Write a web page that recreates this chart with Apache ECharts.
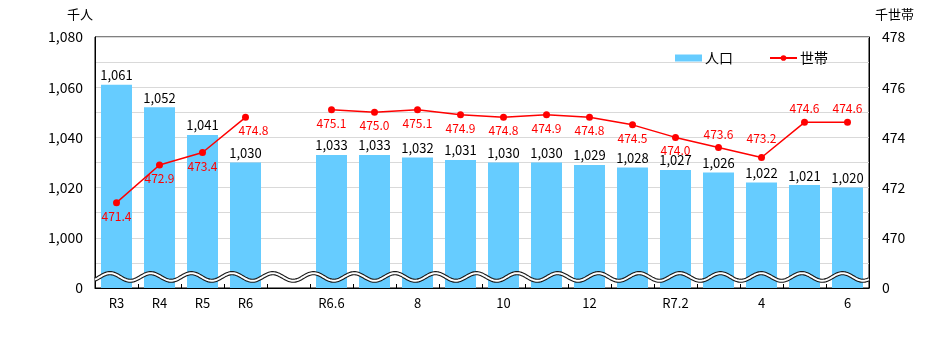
<!DOCTYPE html>
<html>
<head>
<meta charset="utf-8">
<script src="https://cdn.jsdelivr.net/npm/echarts@6.0.0/dist/echarts.min.js"></script>
<style>
html, body { margin: 0; padding: 0; background: #fff; }
#container { width: 932px; height: 353px; }
</style>
</head>
<body>
<div id="container"></div>
<script>
var categories = ['R3', 'R4', 'R5', 'R6', '', 'R6.6', '7', '8', '9', '10', '11', '12', 'R7.1', 'R7.2', '3', '4', '5', '6'];
var tickLabels = ['R3', 'R4', 'R5', 'R6', '', 'R6.6', '', '8', '', '10', '', '12', '', 'R7.2', '', '4', '', '6'];
var population = [1061, 1052, 1041, 1030, null, 1033, 1033, 1032, 1031, 1030, 1030, 1029, 1028, 1027, 1026, 1022, 1021, 1020];
var households = [471.4, 472.9, 473.4, 474.8, null, 475.1, 475.0, 475.1, 474.9, 474.8, 474.9, 474.8, 474.5, 474.0, 473.6, 473.2, 474.6, 474.6];
var leftTicks = ['0', '', '1,000', '', '1,020', '', '1,040', '', '1,060', '', '1,080'];
var rightTicks = ['0', '', '470', '', '472', '', '474', '', '476', '', '478'];

// broken axes: 0 sits one gridline-step below the first real value
var leftBase = 980;   // 1,000 -> 20
var rightBase = 468;  // 470 -> 2
var labelAbove = [14, 15, 16, 17];

var FONT = 'Noto Sans CJK JP';
var dom = document.getElementById('container');
var myChart = echarts.init(dom);

function fmt(n) {
    return String(n).replace(/\B(?=(\d{3})+(?!\d))/g, ',');
}

var barData = population.map(function (v) {
    return v == null ? null : v - leftBase;
});
var lineData = households.map(function (v, i) {
    if (v == null) return null;
    var item = { value: v - rightBase, label: { position: 'bottom', distance: 4 } };
    if (labelAbove.indexOf(i) >= 0) {
        item.label = { position: 'top', distance: 4 };
        if (i == 15) item.label.distance = 10;
    }
    if (i == 3) item.label = { position: 'bottom', distance: 4, offset: [8, 0] };
    return item;
});

var option = {
    animation: false,
    textStyle: { fontFamily: FONT },
    grid: {
        left: 95, right: 63, top: 37, bottom: 65,
        show: true, borderColor: '#000', borderWidth: 1
    },
    legend: {
        left: 670, top: 46,
        itemWidth: 27, itemHeight: 7, itemGap: 36,
        textStyle: { fontFamily: FONT, fontSize: 14, color: '#000', padding: [0, 0, 0, -2] },
        data: [{ name: '人口', icon: 'rect' }, { name: '世帯' }]
    },
    xAxis: {
        type: 'category',
        data: categories,
        axisLine: { lineStyle: { color: '#000', width: 1 } },
        axisTick: { show: true, inside: true, length: 4, interval: 0, lineStyle: { color: '#000' } },
        axisLabel: {
            interval: 0, margin: 9, fontSize: 13, color: '#000', fontFamily: FONT,
            formatter: function (v, i) { return tickLabels[i]; }
        }
    },
    yAxis: [{
        type: 'value',
        min: 0, max: 100, interval: 10,
        name: '千人',
        nameGap: 16,
        nameTextStyle: { fontSize: 13, color: '#000', fontFamily: FONT, align: 'right', padding: [0, 2, 0, 0] },
        axisLine: { show: true, lineStyle: { color: '#000' } },
        axisTick: { show: false },
        splitLine: { lineStyle: { color: '#d9d9d9' } },
        axisLabel: {
            fontSize: 14, color: '#000', margin: 12, fontFamily: FONT,
            formatter: function (v) { return leftTicks[Math.round(v / 10)]; }
        }
    }, {
        type: 'value',
        min: 0, max: 10, interval: 1,
        name: '千世帯',
        nameGap: 16,
        nameTextStyle: { fontSize: 13, color: '#000', fontFamily: FONT, align: 'left', padding: [0, 0, 0, 6] },
        axisLine: { show: true, lineStyle: { color: '#000' } },
        axisTick: { show: false },
        splitLine: { show: false },
        axisLabel: {
            fontSize: 14, color: '#000', margin: 13, fontFamily: FONT,
            formatter: function (v) { return rightTicks[Math.round(v)]; }
        }
    }],
    series: [{
        name: '人口',
        type: 'bar',
        data: barData,
        barWidth: 31,
        itemStyle: { color: '#66ccff' },
        label: {
            show: true, position: 'top', distance: 3,
            fontSize: 13, color: '#000', fontFamily: FONT,
            formatter: function (p) { return fmt(p.value + leftBase); }
        }
    }, {
        name: '世帯',
        type: 'line',
        yAxisIndex: 1,
        data: lineData,
        connectNulls: false,
        symbol: 'circle',
        symbolSize: 7,
        lineStyle: { color: '#ff0000', width: 1.5 },
        itemStyle: { color: '#ff0000' },
        label: {
            show: true, fontSize: 12, color: '#ff0000', fontFamily: FONT,
            formatter: function (p) { return (p.value + rightBase).toFixed(1); }
        }
    }]
};

if (option && typeof option === "object") {
    myChart.setOption(option, true);
}

// wavy axis-break ribbon across the plot
var x0 = 95, x1 = myChart.getWidth() - 63;
var yc = myChart.convertToPixel({ yAxisIndex: 0 }, 4.4);
var pts = [];
for (var x = x0; x <= x1; x += 1) {
    pts.push([x, yc - 3.8 * Math.cos(2 * Math.PI * (x - 110) / 40.7)]);
}
myChart.setOption({
    graphic: [{
        type: 'polyline', z: 100, shape: { points: pts },
        style: { stroke: '#1a1a1a', lineWidth: 4.2, fill: null }
    }, {
        type: 'polyline', z: 101, shape: { points: pts },
        style: { stroke: '#ffffff', lineWidth: 2, fill: null }
    }]
});
</script>
</body>
</html>
